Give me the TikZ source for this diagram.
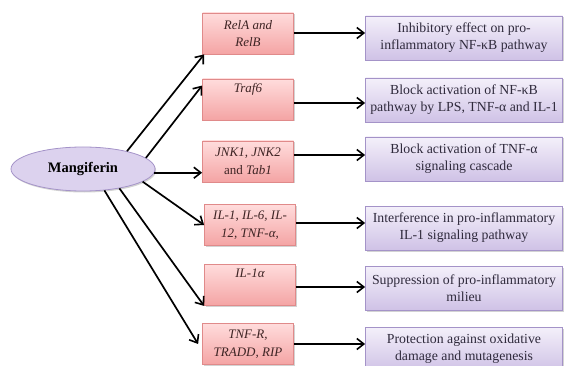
\documentclass[tikz,border=0pt]{standalone}
\usepackage{fontspec}
\setmainfont{Liberation Serif}
\usetikzlibrary{arrows.meta,shapes.geometric,shadows}
\definecolor{pinkB}{HTML}{E08A8A}
\definecolor{pinkT}{HTML}{FFDCDC}
\definecolor{pinkD}{HTML}{F4A4A4}
\definecolor{purB}{HTML}{A493C8}
\definecolor{purT}{HTML}{F4F0FA}
\definecolor{purD}{HTML}{CFC2E6}
\definecolor{ellF}{HTML}{DCD2EE}
\definecolor{txtP}{HTML}{3E2424}
\definecolor{txtV}{HTML}{2F2A3C}
\begin{document}
\begin{tikzpicture}[x=1pt,y=-1pt,
  base/.style={align=center, inner sep=2pt},
  pinkbox/.style={base, font=\fontsize{13}{17.5}\selectfont, draw=pinkB, line width=0.8pt, top color=pinkT, bottom color=pinkD,
    minimum width=91pt, minimum height=41pt, text=txtP,
    drop shadow={shadow xshift=1.2pt, shadow yshift=-1.5pt, opacity=0.35}},
  purbox/.style={base, font=\fontsize{13.8}{17}\selectfont, draw=purB, line width=0.8pt, top color=purT, bottom color=purD,
    minimum width=197pt, minimum height=44pt, text=txtV,
    drop shadow={shadow xshift=1.2pt, shadow yshift=-1.5pt, opacity=0.35}},
  ell/.style={ellipse, draw=purB, line width=0.8pt, fill=ellF, minimum width=144pt,
    minimum height=44pt, font=\fontsize{14.5}{17}\selectfont\bfseries, text=black,
    drop shadow={shadow xshift=1.2pt, shadow yshift=-1.5pt, opacity=0.35}},
  arr/.style={-{Straight Barb[length=7pt,width=11pt,line width=1.6pt]}, line width=1.7pt, black}
]
\useasboundingbox (0,0) rectangle (567,366);

\node[ell] (m) at (83,169) {Mangiferin};

\node[pinkbox] (p1) at (248,33.5) {\itshape RelA and\\ \itshape RelB};
\node[pinkbox] (p2) at (248,99.5) {\itshape Traf6\\ \strut};
\node[pinkbox] (p3) at (248,161.5) {\itshape JNK1, JNK2\\ and \itshape Tab1};
\node[pinkbox] (p4) at (250,225) {\itshape IL-1, IL-6, IL-\\ \itshape 12, TNF-α,};
\node[pinkbox] (p5) at (250,285) {\itshape IL-1α\\ \strut};
\node[pinkbox] (p6) at (248,344) {\itshape TNF-R,\\ \itshape TRADD, RIP};

\node[purbox] (q1) at (464,38) {Inhibitory effect on pro-\\inflammatory NF-κB pathway};
\node[purbox] (q2) at (464,100) {Block activation of NF-κB\\pathway by LPS, TNF-α and IL-1};
\node[purbox] (q3) at (464,159) {Block activation of TNF-α\\signaling cascade};
\node[purbox] (q4) at (464,228) {Interference in pro-inflammatory\\IL-1 signaling pathway};
\node[purbox] (q5) at (464,288) {Suppression of pro-inflammatory\\milieu};
\node[purbox] (q6) at (464,349) {Protection against oxidative\\damage and mutagenesis};

\draw[arr] (m.22) -- ([xshift=2pt]p1.south west);
\draw[arr] (m.10) -- ([yshift=-7pt]p2.north west);
\draw[arr] (m.-3) -- (m.-3 -| p3.west);
\draw[arr] (m.-12) -- (p4.west);
\draw[arr] (m.-28) -- (p5.south west);
\draw[arr] (m.-45) -- ([xshift=-4pt]p6.west);

\draw[arr] ([yshift=0.5pt]p1.east) -- ([yshift=0.5pt]p1.east -| q1.west);
\draw[arr] ([yshift=-3.5pt]p2.east) -- ([yshift=-3.5pt]p2.east -| q2.west);
\draw[arr] ([yshift=6.5pt]p3.east) -- ([yshift=6.5pt]p3.east -| q3.west);
\draw[arr] ([yshift=2pt]p4.east) -- ([yshift=2pt]p4.east -| q4.west);
\draw[arr] ([yshift=-2pt]p5.east) -- ([yshift=-2pt]p5.east -| q5.west);
\draw[arr] (p6.east) -- (p6.east -| q6.west);
\end{tikzpicture}
\end{document}
